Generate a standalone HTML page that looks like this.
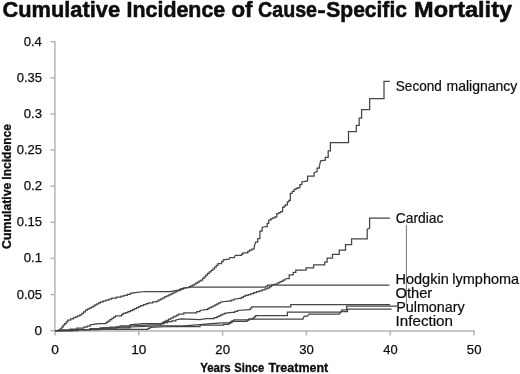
<!DOCTYPE html>
<html><head><meta charset="utf-8"><title>Cumulative Incidence of Cause-Specific Mortality</title>
<style>
html,body{margin:0;padding:0;background:#fff;}
body{width:520px;height:374px;overflow:hidden;font-family:"Liberation Sans",sans-serif;}
svg{display:block;filter:blur(0.42px);}
text{font-family:"Liberation Sans",sans-serif;fill:#0d0d0d;}
.b{font-weight:bold;}
</style></head><body>
<svg width="520" height="374" viewBox="0 0 520 374">
<rect width="520" height="374" fill="#fff"/>
<g stroke="#0d0d0d" stroke-width="0.55" stroke-linejoin="round"><text class="b" font-size="22.5" x="2.43" y="17.30" textLength="117.74" lengthAdjust="spacingAndGlyphs">Cumulative</text><text class="b" font-size="22.5" x="126.61" y="17.30" textLength="98.60" lengthAdjust="spacingAndGlyphs">Incidence</text><text class="b" font-size="22.5" x="231.41" y="17.30" textLength="21.07" lengthAdjust="spacingAndGlyphs">of</text><text class="b" font-size="22.5" x="258.01" y="17.30" textLength="59.01" lengthAdjust="spacingAndGlyphs">Cause</text><text class="b" font-size="22.5" x="317.28" y="17.30" textLength="8.49" lengthAdjust="spacingAndGlyphs">-</text><text class="b" font-size="22.5" x="326.27" y="17.30" textLength="80.66" lengthAdjust="spacingAndGlyphs">Specific</text><text class="b" font-size="22.5" x="414.07" y="17.30" textLength="98.00" lengthAdjust="spacingAndGlyphs">Mortality</text></g>
<g stroke="#b4b4b4" stroke-width="1.5" fill="none">
<line x1="54.9" y1="41.2" x2="54.9" y2="331.3"/>
<line x1="54.2" y1="331.09999999999997" x2="474.6" y2="331.09999999999997"/>
<line x1="50.5" y1="330.7" x2="55" y2="330.7"/><line x1="50.5" y1="294.6" x2="55" y2="294.6"/><line x1="50.5" y1="258.4" x2="55" y2="258.4"/><line x1="50.5" y1="222.3" x2="55" y2="222.3"/><line x1="50.5" y1="186.2" x2="55" y2="186.2"/><line x1="50.5" y1="150.0" x2="55" y2="150.0"/><line x1="50.5" y1="113.9" x2="55" y2="113.9"/><line x1="50.5" y1="77.8" x2="55" y2="77.8"/><line x1="50.5" y1="41.7" x2="55" y2="41.7"/><line x1="55.0" y1="330.7" x2="55.0" y2="335.59999999999997"/><line x1="138.8" y1="330.7" x2="138.8" y2="335.59999999999997"/><line x1="222.6" y1="330.7" x2="222.6" y2="335.59999999999997"/><line x1="306.4" y1="330.7" x2="306.4" y2="335.59999999999997"/><line x1="390.2" y1="330.7" x2="390.2" y2="335.59999999999997"/><line x1="474.0" y1="330.7" x2="474.0" y2="335.59999999999997"/>
</g>
<g stroke="#0d0d0d" stroke-width="0.25"><text font-size="13.6" x="34.46" y="334.70" textLength="7.53" lengthAdjust="spacingAndGlyphs">0</text><text font-size="13.6" x="16.68" y="298.57" textLength="25.36" lengthAdjust="spacingAndGlyphs">0.05</text><text font-size="13.6" x="23.67" y="262.44" textLength="18.43" lengthAdjust="spacingAndGlyphs">0.1</text><text font-size="13.6" x="16.68" y="226.31" textLength="25.36" lengthAdjust="spacingAndGlyphs">0.15</text><text font-size="13.6" x="23.67" y="190.18" textLength="18.50" lengthAdjust="spacingAndGlyphs">0.2</text><text font-size="13.6" x="16.68" y="154.05" textLength="25.36" lengthAdjust="spacingAndGlyphs">0.25</text><text font-size="13.6" x="23.67" y="117.92" textLength="18.36" lengthAdjust="spacingAndGlyphs">0.3</text><text font-size="13.6" x="16.68" y="81.79" textLength="25.36" lengthAdjust="spacingAndGlyphs">0.35</text><text font-size="13.6" x="23.68" y="45.66" textLength="18.22" lengthAdjust="spacingAndGlyphs">0.4</text><text font-size="13.6" x="51.35" y="353.60" textLength="7.65" lengthAdjust="spacingAndGlyphs">0</text><text font-size="13.6" x="131.18" y="353.60" textLength="15.13" lengthAdjust="spacingAndGlyphs">10</text><text font-size="13.6" x="215.34" y="353.60" textLength="14.76" lengthAdjust="spacingAndGlyphs">20</text><text font-size="13.6" x="299.27" y="353.60" textLength="14.62" lengthAdjust="spacingAndGlyphs">30</text><text font-size="13.6" x="383.34" y="353.60" textLength="14.34" lengthAdjust="spacingAndGlyphs">40</text><text font-size="13.6" x="466.87" y="353.60" textLength="14.62" lengthAdjust="spacingAndGlyphs">50</text></g>
<g stroke="#0d0d0d" stroke-width="0.3"><text class="b" font-size="12.4" transform="translate(10.70,248.89) rotate(-90)" textLength="66.33" lengthAdjust="spacingAndGlyphs">Cumulative</text><text class="b" font-size="12.4" transform="translate(10.70,179.68) rotate(-90)" textLength="55.64" lengthAdjust="spacingAndGlyphs">Incidence</text><text class="b" font-size="12.4" x="200.17" y="372.20" textLength="30.58" lengthAdjust="spacingAndGlyphs">Years</text><text class="b" font-size="12.4" x="234.36" y="372.20" textLength="29.86" lengthAdjust="spacingAndGlyphs">Since</text><text class="b" font-size="12.4" x="268.58" y="372.20" textLength="59.60" lengthAdjust="spacingAndGlyphs">Treatment</text></g>

<g stroke="#444" stroke-width="1.25" fill="none" stroke-linejoin="miter">
<polyline points="55.0,330.5 57.5,330.5 58.9,330.5 58.9,329.7 60.3,329.7 60.3,328.9 61.7,328.9 61.7,327.0 63.1,327.0 63.1,325.2 64.7,325.2 64.7,323.5 66.2,323.5 66.2,321.8 67.8,321.8 67.8,320.1 70.6,320.1 70.6,318.9 73.4,318.9 73.4,317.7 75.6,317.7 75.6,316.8 77.7,316.8 77.7,315.8 79.9,315.8 79.9,314.9 81.8,314.9 81.8,313.3 83.6,313.3 83.6,311.8 85.5,311.8 85.5,310.2 87.4,310.2 87.4,309.1 89.3,309.1 89.3,308.1 91.2,308.1 91.2,307.0 93.1,307.0 93.1,306.0 94.9,306.0 94.9,304.9 96.8,304.9 96.8,303.9 98.6,303.9 98.6,302.8 100.5,302.8 100.5,301.8 103.3,301.8 103.3,300.9 106.1,300.9 106.1,300.0 108.9,300.0 108.9,299.0 111.7,299.0 111.7,298.1 116.4,298.1 116.4,297.1 121.1,297.1 121.1,296.2 124.2,296.2 124.2,295.3 127.3,295.3 127.3,294.3 130.4,294.3 130.4,293.4 136.7,292.4 146.0,291.5 170.0,291.5 176.8,290.3 180.2,290.3 180.2,289.2 183.5,289.2 183.5,288.1 191.5,287.0 200.0,287.0 209.4,287.0 264.1,287.0 266.0,287.0 266.0,286.1 267.8,286.1 267.8,285.1 298.0,285.1 389.5,285.1"/>
<polyline points="55.0,330.5 62.5,330.5 62.5,329.8 70.0,329.8 70.0,329.0 76.8,329.0 76.8,328.1 83.7,328.1 83.7,327.1 87.0,327.1 87.0,326.0 90.2,326.0 90.2,324.8 98.6,323.7 106.1,323.7 106.1,322.4 108.0,322.4 108.0,321.0 109.9,321.0 109.9,319.6 111.8,319.6 111.8,318.3 113.6,318.3 113.6,317.1 115.5,317.1 115.5,315.8 120.2,315.8 121.6,315.8 121.6,314.6 123.0,314.6 123.0,313.4 125.5,313.4 125.5,312.5 127.9,312.5 127.9,311.5 130.4,311.5 130.4,310.6 132.5,310.6 132.5,309.6 134.5,309.6 134.5,308.6 136.6,308.6 136.6,307.5 138.6,307.5 138.6,306.5 140.7,306.5 140.7,305.5 143.4,305.5 143.4,304.6 146.0,304.6 146.0,303.7 148.7,303.7 148.7,302.8 152.7,302.8 152.7,301.9 156.7,301.9 156.7,301.0 158.7,301.0 158.7,299.9 160.8,299.9 160.8,298.9 162.8,298.9 162.8,297.8 164.8,297.8 164.8,296.7 166.8,296.7 166.8,295.8 168.8,295.8 168.8,294.8 170.8,294.8 170.8,293.8 172.8,293.8 172.8,292.9 174.8,292.9 174.8,291.8 176.8,291.8 176.8,290.8 178.8,290.8 178.8,289.8 180.8,289.8 180.8,288.7 187.5,287.6 189.2,287.6 189.2,286.7 190.8,286.7 190.8,285.9 192.5,285.9 192.5,285.0 194.2,285.0 194.2,284.1 195.9,284.1 195.9,283.1 197.6,283.1 197.6,282.1 199.2,282.1 199.2,281.1 200.9,281.1 200.9,280.1 202.6,280.1 202.6,278.4 204.2,278.4 204.2,276.8 205.8,276.8 205.8,275.1 207.5,275.1 207.5,273.4 209.3,273.4 209.3,271.9 211.1,271.9 211.1,270.4 212.9,270.4 212.9,268.9 214.6,268.9 214.6,267.1 216.3,267.1 216.3,265.3 218.0,265.3 218.0,263.5 220.2,263.5 221.6,263.5 221.6,261.7 223.1,261.7 223.1,259.9 229.0,259.1 229.8,257.6 234.2,257.6 235.4,255.4 240.1,255.4 241.6,255.4 241.6,254.2 243.0,254.2 243.0,252.9 245.9,252.9 247.8,252.9 247.8,251.4 249.6,251.4 249.6,250.0 251.8,250.0 251.8,249.1 254.0,249.1 254.0,248.1 255.5,242.2 257.7,242.2 257.7,238.5 259.9,238.5 259.9,231.2 262.1,231.2 262.1,227.5 265.8,226.5 267.2,226.5 267.2,223.3 268.7,223.3 268.7,220.1 270.9,220.1 270.9,218.7 272.9,218.7 272.9,217.8 274.9,217.8 274.9,216.9 276.8,216.9 276.8,213.5 278.8,213.5 278.8,212.5 280.7,212.5 280.7,211.5 282.6,211.5 282.6,207.3 284.1,207.3 284.1,206.1 285.5,206.1 285.5,204.8 287.4,204.8 287.4,201.9 288.9,201.9 288.9,200.4 290.3,200.4 290.3,199.0 290.3,193.3 292.2,193.3 292.2,191.4 294.1,191.4 294.1,189.4 296.1,189.4 296.1,188.4 298.0,188.4 298.0,187.5 299.9,187.5 299.9,184.6 301.8,184.6 301.8,182.0 307.6,180.9 307.6,176.2 314.1,176.2 314.1,172.7 317.1,171.5 317.1,168.0 319.4,168.0 319.4,166.2 320.6,160.9 325.3,160.1 325.3,157.4 328.2,157.4 328.2,156.2 328.2,150.9 330.4,150.9 330.4,148.0 330.4,142.6 348.5,142.6 348.5,131.7 356.3,131.7 356.3,125.3 359.2,125.3 359.2,118.0 361.6,118.0 361.6,109.6 369.7,109.6 369.7,98.7 384.0,98.7 384.0,81.4 389.8,81.4"/>
<polyline points="55.0,330.5 72.5,330.5 72.5,329.5 90.0,329.5 90.0,328.5 100.0,328.5 100.0,327.8 110.0,327.8 110.0,327.0 120.0,327.0 120.0,325.9 130.0,325.9 130.0,324.8 143.5,323.6 154.2,323.6 162.3,323.6 162.3,322.3 164.3,322.3 164.3,321.3 166.3,321.3 166.3,320.3 168.6,320.3 168.6,319.2 170.8,319.2 170.8,318.0 173.1,318.0 173.1,316.9 174.9,316.9 174.9,316.0 176.7,316.0 176.7,315.1 178.5,315.1 178.5,314.2 183.8,314.2 183.8,312.9 193.3,312.9 196.7,312.9 196.7,311.7 200.0,311.7 200.0,310.5 205.7,309.6 207.6,309.6 207.6,308.7 209.4,308.7 209.4,307.7 211.3,307.7 211.3,306.8 213.2,306.8 213.2,305.8 215.1,305.8 215.1,304.9 217.0,304.9 217.0,303.9 218.8,303.9 218.8,302.9 220.7,302.9 220.7,302.0 228.3,301.1 231.1,301.1 231.1,300.1 233.9,300.1 233.9,299.2 239.6,298.3 241.5,298.3 241.5,297.3 243.3,297.3 243.3,296.4 245.2,296.4 245.2,295.4 248.1,295.4 248.1,294.5 250.9,294.5 250.9,293.6 253.7,293.6 253.7,292.6 256.5,292.6 256.5,291.7 259.4,291.7 259.4,290.8 262.2,290.8 262.2,289.8 265.0,289.8 265.0,288.9 267.8,288.9 267.8,287.9 269.7,287.9 269.7,286.5 271.6,286.5 271.6,285.1 275.4,284.1 277.3,284.1 277.3,283.2 279.1,283.2 279.1,282.2 281.0,282.2 281.0,281.3 283.0,281.3 283.0,280.2 285.0,280.2 285.0,279.1 286.8,278.5 289.2,278.5 289.2,274.8 293.2,274.8 293.2,272.4 295.8,272.4 295.8,270.0 306.1,270.0 306.1,267.8 313.6,267.8 313.6,264.9 324.7,264.9 324.7,262.2 327.1,262.2 327.1,258.2 332.5,258.2 332.5,254.4 339.2,254.4 339.2,250.0 345.5,250.0 345.5,244.6 351.6,244.6 351.6,238.8 367.2,238.8 367.2,229.2 369.6,228.4 369.6,218.1 389.9,218.1"/>
<polyline points="55.0,330.5 72.5,330.5 72.5,329.6 90.0,329.6 90.0,328.8 103.3,328.8 103.3,327.9 116.7,327.9 116.7,326.9 130.0,326.9 130.0,326.0 150.2,324.9 161.0,324.9 161.0,323.6 164.3,323.6 164.3,322.6 167.7,322.6 167.7,321.6 171.8,321.6 171.8,320.8 175.8,320.8 175.8,319.9 181.1,318.9 200.0,319.6 205.7,318.6 211.3,318.6 214.2,318.6 214.2,317.6 217.0,317.6 217.0,316.7 218.8,316.7 218.8,315.8 220.7,315.8 220.7,314.9 222.6,314.9 222.6,314.1 224.5,314.1 224.5,313.4 232.0,312.4 234.8,312.4 234.8,311.4 237.7,311.4 237.7,310.5 249.0,309.6 250.4,309.6 250.4,308.2 251.8,308.2 251.8,306.8 288.7,306.8 290.8,306.8 290.8,304.5 390.0,304.5"/>
<polyline points="55.0,330.5 77.5,330.5 77.5,329.6 100.0,329.6 100.0,328.8 115.0,328.8 115.0,327.9 130.0,327.9 130.0,327.0 161.0,325.9 175.8,325.9 183.8,325.9 200.0,324.7 211.3,323.7 222.6,322.8 228.3,322.8 230.2,322.8 230.2,321.8 232.0,321.8 232.0,320.9 233.9,320.9 233.9,319.9 245.2,319.9 249.0,319.9 249.0,319.0 252.8,319.0 252.8,318.1 254.2,318.1 254.2,316.9 255.6,316.9 255.6,315.6 285.4,315.6 287.4,315.6 287.4,312.2 340.6,312.2 341.9,309.9 346.6,309.9 346.6,306.0 390.0,306.0 397.0,306.0"/>
<polyline points="55.0,330.5 100.0,329.3 146.0,329.3 148.0,329.3 148.0,328.4 150.0,328.4 150.0,327.5 170.0,326.5 200.0,326.5 200.0,325.2 218.8,325.2 223.6,325.2 223.6,324.4 228.3,324.4 228.3,323.7 230.2,323.7 230.2,322.5 232.0,322.5 232.0,321.3 245.2,321.3 247.1,321.3 247.1,320.1 249.0,320.1 249.0,319.0 302.9,319.0 304.2,316.2 307.6,316.2 308.9,314.0 339.2,314.0 340.6,312.8 341.5,311.5 347.5,311.5 347.5,309.0 391.5,309.0"/>
</g>
<line x1="406.4" y1="225" x2="406.4" y2="304.5" stroke="#555" stroke-width="0.8"/>
<g stroke="#0d0d0d" stroke-width="0.2"><text font-size="14.2" x="395.79" y="90.80" textLength="46.02" lengthAdjust="spacingAndGlyphs">Second</text><text font-size="14.2" x="446.49" y="90.80" textLength="70.79" lengthAdjust="spacingAndGlyphs">malignancy</text><text font-size="14.2" x="395.71" y="222.80" textLength="47.75" lengthAdjust="spacingAndGlyphs">Cardiac</text><text font-size="14.2" x="395.44" y="284.10" textLength="53.29" lengthAdjust="spacingAndGlyphs">Hodgkin</text><text font-size="14.2" x="452.36" y="284.10" textLength="66.68" lengthAdjust="spacingAndGlyphs">lymphoma</text><text font-size="14.2" x="395.44" y="297.70" textLength="36.80" lengthAdjust="spacingAndGlyphs">Other</text><text font-size="14.2" x="396.15" y="311.50" textLength="68.65" lengthAdjust="spacingAndGlyphs">Pulmonary</text><text font-size="14.2" x="395.63" y="325.50" textLength="57.36" lengthAdjust="spacingAndGlyphs">Infection</text></g>
</svg>
</body></html>
